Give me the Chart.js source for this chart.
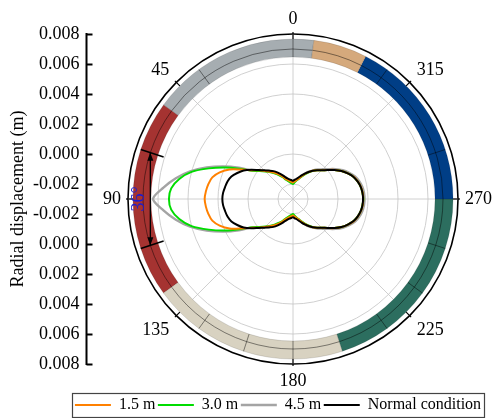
<!DOCTYPE html>
<html>
<head>
<meta charset="utf-8">
<script src="https://cdn.jsdelivr.net/npm/chart.js@4.4.1/dist/chart.umd.min.js"></script>
<style>
  html, body { margin: 0; padding: 0; background: #fff; }
  #wrap { width: 493px; height: 418px; }
</style>
</head>
<body>
<div id="wrap"><canvas id="chart"></canvas></div>
<script>
// angle categories in degrees, counter-clockwise from the top, every 5 degrees
const angles = Array.from({ length: 72 }, (_, i) => i * 5);

const seriesNames = ['1.5 m', '3.0 m', '4.5 m', 'Normal condition'];
const seriesColors = ['#ff8000', '#00dc00', '#a4a4a4', '#000000'];

// radial displacement (m) at each angle, 0..355
const disp15 = [
  -0.0019, -0.00185, -0.00179, -0.0017, -0.00157, -0.00133, -0.0011, -0.00087, -0.00063, -0.00037,
  -0.00003, 0.00033, 0.00093, 0.00167, 0.0022, 0.00257, 0.00273, 0.00283, 0.00289,
  0.00283, 0.00273, 0.00257, 0.0022, 0.00167, 0.00093, 0.00033, -0.00003, -0.00037, -0.00063,
  -0.00087, -0.0011, -0.00133, -0.00157, -0.0017, -0.00179, -0.00185,
  -0.0019, -0.00183, -0.00173, -0.0016, -0.0014, -0.00117, -0.00093, -0.0007, -0.0005, -0.0003,
  0.00001, 0.00038, 0.00074, 0.00104, 0.00131, 0.00148, 0.0016, 0.00166, 0.00168,
  0.00166, 0.0016, 0.00148, 0.00131, 0.00104, 0.00074, 0.00038, 0.00001, -0.0003, -0.0005,
  -0.0007, -0.00093, -0.00117, -0.0014, -0.0016, -0.00173, -0.00183
];
const disp30 = [
  -0.002, -0.00195, -0.00187, -0.00177, -0.00163, -0.0014, -0.00117, -0.00093, -0.00067, -0.0004,
  -0.0001, 0.00027, 0.001, 0.00197, 0.00297, 0.004, 0.0047, 0.00515, 0.00527,
  0.00515, 0.0047, 0.004, 0.00297, 0.00197, 0.001, 0.00027, -0.0001, -0.0004, -0.00067,
  -0.00093, -0.00117, -0.0014, -0.00163, -0.00177, -0.00187, -0.00195,
  -0.002, -0.0019, -0.00177, -0.00163, -0.00143, -0.0012, -0.00097, -0.00073, -0.0005, -0.0003,
  0, 0.00037, 0.00073, 0.00103, 0.0013, 0.00147, 0.00159, 0.00165, 0.00169,
  0.00165, 0.00159, 0.00147, 0.0013, 0.00103, 0.00073, 0.00037, 0, -0.0003, -0.0005,
  -0.00073, -0.00097, -0.0012, -0.00143, -0.00163, -0.00177, -0.0019
];
const disp45 = [
  -0.00193, -0.00188, -0.0018, -0.0017, -0.00157, -0.00133, -0.0011, -0.00087, -0.0006, -0.00033,
  -0.00003, 0.0003, 0.00117, 0.00213, 0.00313, 0.0041, 0.00493, 0.00567, 0.00633,
  0.00567, 0.00493, 0.0041, 0.00313, 0.00213, 0.00117, 0.0003, -0.00003, -0.00033, -0.0006,
  -0.00087, -0.0011, -0.00133, -0.00157, -0.0017, -0.0018, -0.00188,
  -0.00187, -0.0018, -0.0017, -0.00157, -0.00137, -0.00113, -0.0009, -0.00067, -0.00043, -0.0002,
  0.0001, 0.00047, 0.00083, 0.00113, 0.0014, 0.00157, 0.00169, 0.00175, 0.00177,
  0.00175, 0.00169, 0.00157, 0.0014, 0.00113, 0.00083, 0.00047, 0.0001, -0.0002, -0.00043,
  -0.00067, -0.0009, -0.00113, -0.00137, -0.00157, -0.0017, -0.0018
];
const dispNormal = [
  -0.00178, -0.00173, -0.00167, -0.00158, -0.00143, -0.0012, -0.00097, -0.00073, -0.00053, -0.0003,
  0, 0.0004, 0.0008, 0.0011, 0.00137, 0.00152, 0.0016, 0.00168, 0.00171,
  0.00168, 0.0016, 0.00152, 0.00137, 0.0011, 0.0008, 0.0004, 0, -0.0003, -0.00053,
  -0.00073, -0.00097, -0.0012, -0.00143, -0.00158, -0.00167, -0.00173,
  -0.00178, -0.00171, -0.00163, -0.0015, -0.00133, -0.00113, -0.00092, -0.0007, -0.0005, -0.0003,
  0, 0.00037, 0.00073, 0.00103, 0.0013, 0.00147, 0.00159, 0.00165, 0.00167,
  0.00165, 0.00159, 0.00147, 0.0013, 0.00103, 0.00073, 0.00037, 0, -0.0003, -0.0005,
  -0.0007, -0.00092, -0.00113, -0.00133, -0.0015, -0.00163, -0.00171
];

const gridValues = [-0.002, 0, 0.002, 0.004, 0.006, 0.008];
const axisTicks = [0.008, 0.006, 0.004, 0.002, 0.000, -0.002];
const angleLabels = [0, 45, 90, 135, 180, 225, 270, 315];

// coloured band round the edge (degrees, counter-clockwise from top)
const bandFrom = [-7.5, 54, 126, 198, 270, 333];
const bandTo = [54, 126, 198, 270, 333, 352.5];
const bandColors = ['#a6adb1', '#a53331', '#d8d2c1', '#2c6e5f', '#003e86', '#d5a97c'];
const bandDividers = [0, 36, 144, 162, 180, 216, 234, 252, 288, 324];
const bandInner = 0.00647, bandMid = 0.007, bandOuter = 0.00767;

// 36 degree marker on the red part
const markerAngles = [72, 108];
const markerText = '36°';

const serif = '"Liberation Serif", "Times New Roman", serif';
Chart.defaults.font.family = serif;
Chart.defaults.color = '#000';

// radar index i runs clockwise, so read the angles backwards
const order = angles.map((_, i) => (angles.length - i) % angles.length);
const seriesData = [disp15, disp30, disp45, dispNormal];
const lineWidths = [2, 2, 2.4, 2];
const drawOrder = [1, 2, 3, 0];

const rad = (deg) => -Math.PI / 2 - deg * Math.PI / 180;
function polarPoint(s, deg, value, extra = 0) {
  const d = s.getDistanceFromCenterForValue(value) + extra;
  return { x: s.xCenter + d * Math.cos(rad(deg)), y: s.yCenter + d * Math.sin(rad(deg)) };
}
function line(ctx, a, b) {
  ctx.beginPath(); ctx.moveTo(a.x, a.y); ctx.lineTo(b.x, b.y); ctx.stroke();
}
function arrowHead(ctx, tip, from) {
  const dx = tip.x - from.x, dy = tip.y - from.y;
  const len = Math.hypot(dx, dy), ux = dx / len, uy = dy / len;
  ctx.beginPath();
  ctx.moveTo(tip.x, tip.y);
  ctx.lineTo(tip.x - 8 * ux - 3 * uy, tip.y - 8 * uy + 3 * ux);
  ctx.lineTo(tip.x - 8 * ux + 3 * uy, tip.y - 8 * uy - 3 * ux);
  ctx.closePath();
  ctx.fill();
}

const decor = {
  id: 'decor',
  afterDatasetsDraw(chart) {
    const s = chart.scales.r, ctx = chart.ctx;
    const cx = s.xCenter, cy = s.yCenter;
    const rIn = s.getDistanceFromCenterForValue(bandInner);
    const rMid = s.getDistanceFromCenterForValue(bandMid);
    const rOut = s.getDistanceFromCenterForValue(bandOuter);
    ctx.save();
    bandFrom.forEach((from, i) => {
      const to = bandTo[i];
      ctx.beginPath();
      ctx.arc(cx, cy, rOut, rad(from), rad(to), true);
      ctx.arc(cx, cy, rIn, rad(to), rad(from), false);
      ctx.closePath();
      ctx.fillStyle = bandColors[i];
      ctx.fill();
      ctx.strokeStyle = 'rgba(0,0,0,0.15)';
      ctx.lineWidth = 0.8;
      ctx.stroke();
      ctx.beginPath();
      ctx.arc(cx, cy, rMid, rad(from), rad(to), true);
      ctx.strokeStyle = 'rgba(0,0,0,0.45)';
      ctx.lineWidth = 1;
      ctx.stroke();
    });
    ctx.strokeStyle = 'rgba(0,0,0,0.45)';
    ctx.lineWidth = 1;
    bandDividers.forEach(deg => line(ctx, polarPoint(s, deg, bandInner), polarPoint(s, deg, bandOuter)));

    // short black ticks between the band and the outer circle
    ctx.strokeStyle = '#000';
    ctx.lineWidth = 1.2;
    angleLabels.forEach(deg => line(ctx, polarPoint(s, deg, bandOuter), polarPoint(s, deg, s.max, 2)));

    // 36 degree marker
    ctx.lineWidth = 1.5;
    markerAngles.forEach(deg => line(ctx, polarPoint(s, deg, 0.00607), polarPoint(s, deg, bandOuter)));
    const p1 = polarPoint(s, markerAngles[0], bandMid), p2 = polarPoint(s, markerAngles[1], bandMid);
    ctx.lineWidth = 1.3;
    line(ctx, p1, p2);
    ctx.fillStyle = '#000';
    arrowHead(ctx, p1, p2);
    arrowHead(ctx, p2, p1);
    const tp = polarPoint(s, 90, 0.00727);
    ctx.translate(tp.x, tp.y);
    ctx.rotate(-Math.PI / 2);
    ctx.fillStyle = '#1c1cd0';
    ctx.font = '18px ' + serif;
    ctx.textAlign = 'center';
    ctx.textBaseline = 'middle';
    ctx.fillText(markerText, 0, 0);
    ctx.restore();
  },
  afterDraw(chart) {
    const s = chart.scales.r, ctx = chart.ctx;
    const cx = s.xCenter, cy = s.yCenter;
    const R = s.getDistanceFromCenterForValue(s.max);
    ctx.save();
    ctx.fillStyle = '#000';
    ctx.strokeStyle = '#000';
    ctx.font = '18px ' + serif;

    // angle labels
    angleLabels.forEach(deg => {
      const a = rad(deg), c = Math.cos(a), sn = Math.sin(a);
      const pad = Math.abs(sn) < 0.1 ? 7 : 10;
      const x = cx + (R + pad) * c, y = cy + (R + pad) * sn;
      ctx.textAlign = Math.abs(c) < 0.1 ? 'center' : (c < 0 ? 'right' : 'left');
      if (Math.abs(sn) < 0.1) { ctx.textBaseline = 'middle'; ctx.fillText(String(deg), x, y); }
      else if (sn < 0) { ctx.textBaseline = 'alphabetic'; ctx.fillText(String(deg), x, y); }
      else { ctx.textBaseline = 'alphabetic'; ctx.fillText(String(deg), x, y + 12); }
    });

    // mirrored radial displacement axis on the left
    const axisX = 86.5;
    ctx.lineWidth = 2;
    ctx.beginPath();
    ctx.moveTo(axisX, cy - R - 1);
    ctx.lineTo(axisX, cy + R + 1);
    ctx.stroke();
    ctx.textAlign = 'right';
    ctx.textBaseline = 'middle';
    axisTicks.forEach(v => {
      const d = s.getDistanceFromCenterForValue(v);
      [-1, 1].forEach(sign => {
        const y = Math.round(cy + sign * d) + 0.5;
        ctx.beginPath(); ctx.moveTo(axisX, y); ctx.lineTo(axisX + 6, y); ctx.stroke();
        ctx.fillText(v.toFixed(3), axisX - 7, y);
      });
    });
    ctx.save();
    ctx.translate(18, cy);
    ctx.rotate(-Math.PI / 2);
    ctx.textAlign = 'center';
    ctx.fillText('Radial displacement (m)', 0, 0);
    ctx.restore();

    // frame round the legend
    const hb = chart.legend.legendHitBoxes;
    if (hb && hb.length) {
      const left = Math.min(...hb.map(b => b.left)) - 3;
      const right = Math.max(...hb.map(b => b.left + b.width)) + 3;
      const top = hb[0].top - 4, bottom = hb[0].top + hb[0].height + 4;
      ctx.strokeStyle = '#444';
      ctx.lineWidth = 1.2;
      ctx.strokeRect(Math.round(left) + 0.5, Math.round(top) + 0.5, Math.round(right - left), Math.round(bottom - top));
    }
    ctx.restore();
  }
};

new Chart(document.getElementById('chart'), {
  type: 'radar',
  data: {
    labels: order.map(j => String(angles[j])),
    datasets: seriesNames.map((name, k) => ({
      label: name,
      data: order.map(j => seriesData[k][j]),
      borderColor: seriesColors[k],
      backgroundColor: seriesColors[k],
      borderWidth: lineWidths[k],
      fill: false,
      order: drawOrder[k]
    }))
  },
  options: {
    responsive: true,
    maintainAspectRatio: false,
    animation: false,
    layout: { padding: { left: 63, right: 0, top: 0, bottom: -5 } },
    elements: {
      point: { radius: 0, hitRadius: 0, hoverRadius: 0 },
      line: { tension: 0.3 }
    },
    scales: {
      r: {
        min: -0.003,
        max: 0.008,
        afterBuildTicks: (s) => { s.ticks = gridValues.map(v => ({ value: v })); },
        afterFit: (s) => { s.xCenter = 293; s.yCenter = 199; s.drawingArea = 165; },
        ticks: { display: false },
        pointLabels: { display: false },
        grid: {
          circular: true,
          color: (c) => (c.tick && c.tick.value === 0.008 ? '#000' : '#c4c4c4'),
          lineWidth: (c) => (c.tick && c.tick.value === 0.008 ? 1.6 : 0.8)
        },
        angleLines: {
          color: (c) => (c.index % 9 === 0 ? '#c4c4c4' : 'rgba(0,0,0,0)'),
          lineWidth: (c) => (c.index % 9 === 0 ? 0.8 : 0)
        }
      }
    },
    plugins: {
      tooltip: { enabled: false },
      legend: {
        position: 'bottom',
        labels: {
          usePointStyle: true,
          pointStyle: 'line',
          pointStyleWidth: 36,
          padding: 2.5,
          font: { size: 16 },
          sort: (a, b) => a.datasetIndex - b.datasetIndex
        }
      }
    }
  },
  plugins: [decor]
});
</script>
</body>
</html>
